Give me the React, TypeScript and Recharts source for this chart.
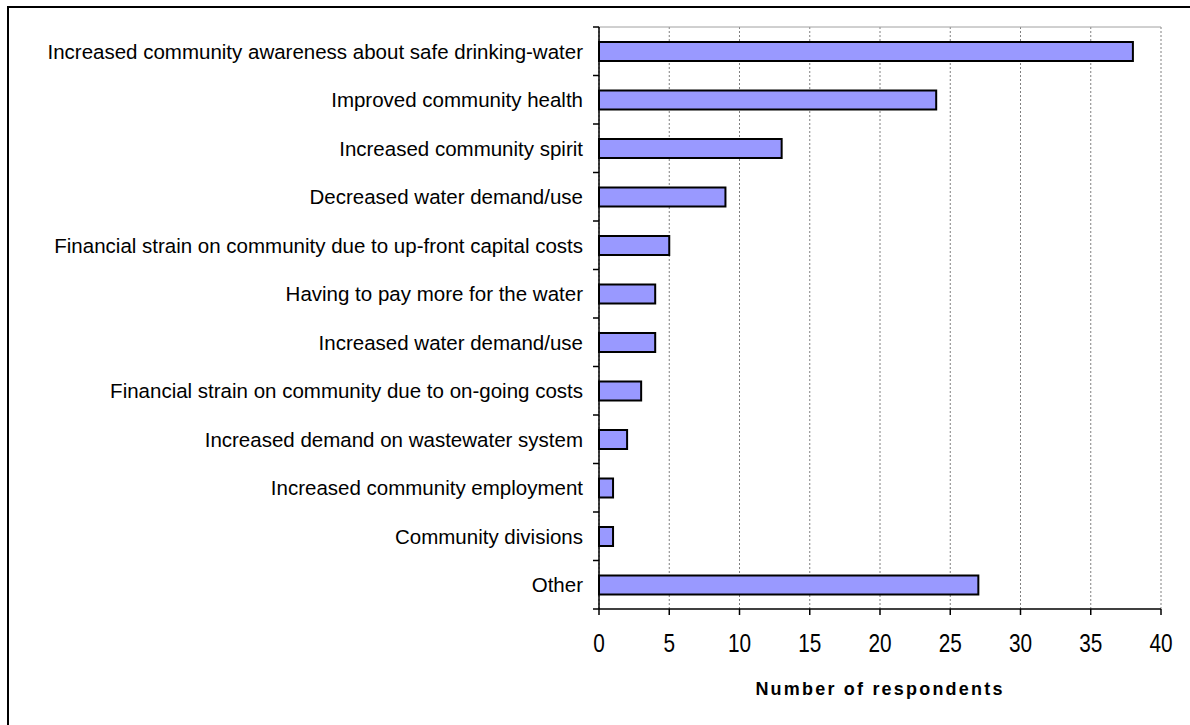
import React from 'react';
import { BarChart, Bar, XAxis, YAxis, CartesianGrid } from 'recharts';

const categories = [
  'Increased community awareness about safe drinking-water',
  'Improved community health',
  'Increased community spirit',
  'Decreased water demand/use',
  'Financial strain on community due to up-front capital costs',
  'Having to pay more for the water',
  'Increased water demand/use',
  'Financial strain on community due to on-going costs',
  'Increased demand on wastewater system',
  'Increased community employment',
  'Community divisions',
  'Other',
];
const respondents = [38, 24, 13, 9, 5, 4, 4, 3, 2, 1, 1, 27];
const xTicks = [0, 5, 10, 15, 20, 25, 30, 35, 40];
const axisTitle = 'Number of respondents';

const chartData = categories.map((label, i) => ({ label, value: respondents[i] }));

const FONT = "'Liberation Sans', Arial, sans-serif";
const PLOT_H = 582;
const BAND_HALF = PLOT_H / categories.length / 2;

const XTick = (props: any) => {
  const { x, y, payload } = props;
  return (
    <g transform={`translate(${x},${y})`}>
      <text
        x={0}
        y={0}
        dy={31}
        textAnchor="middle"
        fontSize={26}
        fill="#000"
        fontFamily={FONT}
        transform="scale(0.8,1)"
      >
        {payload.value}
      </text>
    </g>
  );
};

const YTick = (props: any) => {
  const { x, y, payload, index } = props;
  const half = payload.offset > 0 ? payload.offset : BAND_HALF;
  const ax = x + 16;
  return (
    <g>
      <text x={x} y={y} dy="0.36em" textAnchor="end" fontSize={20.5} fill="#000" fontFamily={FONT}>
        {payload.value}
      </text>
      <line x1={ax - 6} x2={ax} y1={y - half} y2={y - half} stroke="#000" strokeWidth={1.5} />
      {index === categories.length - 1 && (
        <line x1={ax - 6} x2={ax} y1={y + half} y2={y + half} stroke="#000" strokeWidth={1.5} />
      )}
    </g>
  );
};

export default function App() {
  return (
    <div style={{ fontFamily: FONT }}>
      <style>{`body{margin:0;overflow:hidden}`}</style>
      <div
        style={{
          position: 'absolute',
          left: 7,
          top: 6,
          width: 1200,
          height: 740,
          border: '2px solid #000',
          background: '#fff',
        }}
      >
        <BarChart
          width={1180}
          height={700}
          data={chartData}
          layout="vertical"
          margin={{ top: 19, right: 28, bottom: 0, left: 0 }}
          barCategoryGap={0}
        >
          <CartesianGrid horizontal={false} stroke="#808080" strokeDasharray="2 2" />
          <CartesianGrid
            vertical={false}
            stroke="#a0a0a0"
            horizontalCoordinatesGenerator={({ offset }: any) => [offset.top]}
          />
          <XAxis
            type="number"
            domain={[0, 40]}
            ticks={xTicks}
            interval={0}
            tick={<XTick />}
            tickSize={6}
            tickMargin={6}
            height={99}
            stroke="#000"
            strokeWidth={1.5}
            label={{
              value: axisTitle,
              position: 'insideBottom',
              offset: 13,
              fontSize: 18,
              fontWeight: 'bold',
              fill: '#000',
              letterSpacing: 2.2,
              fontFamily: FONT,
            }}
          />
          <YAxis
            type="category"
            dataKey="label"
            width={590}
            interval={0}
            tickLine={false}
            tickSize={0}
            tickMargin={16}
            tick={<YTick />}
            stroke="#000"
            strokeWidth={1.5}
          />
          <Bar
            dataKey="value"
            fill="#9999ff"
            stroke="#000"
            strokeWidth={2}
            barSize={19}
            isAnimationActive={false}
          />
        </BarChart>
      </div>
    </div>
  );
}
